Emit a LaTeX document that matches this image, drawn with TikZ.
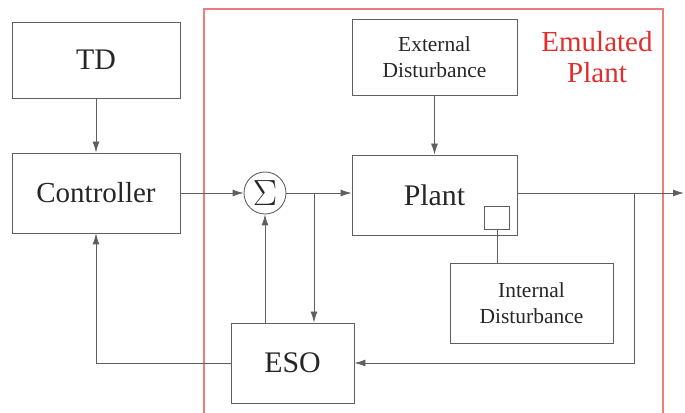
\documentclass[tikz,border=0pt]{standalone}
\usepackage{fontspec}
\setmainfont{Liberation Serif}
\usetikzlibrary{arrows.meta}
\definecolor{lgray}{RGB}{95,95,95}
\definecolor{emured}{RGB}{225,45,45}
\definecolor{framered}{RGB}{236,125,125}
\begin{document}
\begin{tikzpicture}[>={Latex[length=2.2mm,width=1.4mm]},color=lgray,line width=0.5pt]
\tikzstyle{every node}=[rectangle,draw=lgray,text=black!85,inner sep=0pt]
\useasboundingbox (0,0) rectangle (13.7,-8.26);
% emulated plant frame
\draw[draw=framered,line width=0.6pt] (4.08,-8.26) -- (4.08,-0.18) -- (13.26,-0.18) -- (13.26,-8.26);
\node[draw=none,text=emured,font=\fontsize{16.5}{19}\selectfont,align=center] at (11.94,-1.14) (ep) {Emulated\\[-1pt]Plant};
% blocks
\node[minimum width=3.36cm,minimum height=1.52cm,font=\fontsize{17}{20}\selectfont] at (1.92,-1.2) (td) {TD};
\node[minimum width=3.36cm,minimum height=1.6cm,font=\fontsize{16.5}{20}\selectfont] at (1.92,-3.86) (c) {Controller};
\node[circle,minimum size=0.84cm,font=\fontsize{22}{24}\selectfont] at (5.3,-3.86) (s) {$\Sigma$};
\node[minimum width=3.3cm,minimum height=1.6cm,font=\fontsize{17}{20}\selectfont] at (8.69,-3.9) (p) {Plant};
\node[minimum width=0.5cm,minimum height=0.46cm] at (9.94,-4.36) (pd) {};
\node[minimum width=3.3cm,minimum height=1.52cm,align=center,font=\fontsize{12.2}{15}\selectfont] at (8.69,-1.14) (ed) {External\\Disturbance};
\node[minimum width=3.26cm,minimum height=1.6cm,align=center,font=\fontsize{12.2}{15}\selectfont] at (10.63,-6.06) (id) {Internal\\Disturbance};
\node[minimum width=2.46cm,minimum height=1.6cm,font=\fontsize{17}{20}\selectfont] at (5.85,-7.26) (eso) {ESO};
% signal paths
\coordinate (out) at (13.68,-3.86);
\coordinate (b1) at (12.68,-3.86);
\coordinate (b2) at (6.28,-3.86);
\draw[->] (td) -- (c);
\draw[->] (c) -- (s);
\draw[->] (s) -- (s -| p.west);
\draw[->] (ed) -- (p);
\draw (pd) -- (pd |- id.north);
\draw[->] (p.east |- out) -- (out);
\draw[->] (b1) |- (eso.east);
\draw[->] (b2) -- (b2 |- eso.north);
\draw[->] (s |- eso.north) -- (s);
\draw[->] (eso.west) -| (c.south);
\end{tikzpicture}
\end{document}
